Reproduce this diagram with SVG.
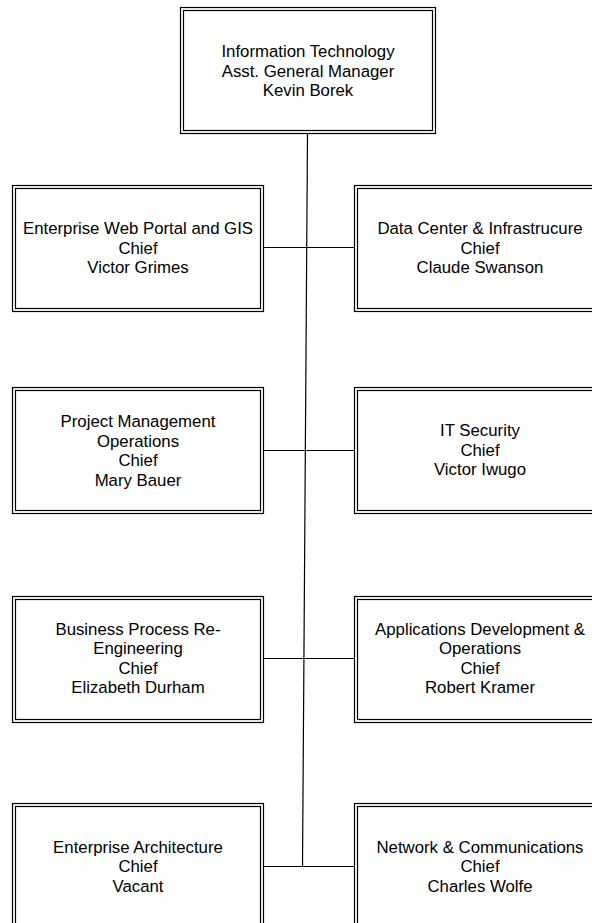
<svg xmlns="http://www.w3.org/2000/svg" width="592" height="923" viewBox="0 0 592 923">
  <style>
    .frame { fill: #ffffff; stroke: #000000; stroke-width: 1.2; }
    .inner { fill: none; stroke: #000000; stroke-width: 1.2; }
    .wire { fill: none; stroke: #000000; stroke-width: 1.2; }
    text { font-family: "Liberation Sans", Arial, sans-serif; font-size: 16.8px; fill: #000000; text-anchor: middle; }
  </style>

  <!-- connectors: spine from the manager box plus one bar per row of chiefs -->
  <g id="connectors">
    <line class="wire" x1="307.5" y1="134" x2="302.5" y2="867"/>
    <line class="wire" x1="263.5" y1="247.5" x2="354.5" y2="247.5"/>
    <line class="wire" x1="263.5" y1="450.5" x2="354.5" y2="450.5"/>
    <line class="wire" x1="263.5" y1="658.5" x2="354.5" y2="658.5"/>
    <line class="wire" x1="263.5" y1="866.5" x2="354.5" y2="866.5"/>
  </g>

  <g id="agm">
    <rect class="frame" x="180.5" y="7.5" width="255" height="126"/>
    <rect class="inner" x="183.5" y="10.5" width="249" height="120"/>
    <text x="308" y="57">Information Technology</text>
    <text x="308" y="76.5">Asst. General Manager</text>
    <text x="308" y="96">Kevin Borek</text>
  </g>

  <g id="web-portal-gis">
    <rect class="frame" x="12.5" y="185.5" width="251" height="126"/>
    <rect class="inner" x="15.5" y="188.5" width="245" height="120"/>
    <text x="138" y="234">Enterprise Web Portal and GIS</text>
    <text x="138" y="253.5">Chief</text>
    <text x="138" y="273">Victor Grimes</text>
  </g>

  <g id="data-center">
    <rect class="frame" x="354.5" y="185.5" width="251" height="126"/>
    <rect class="inner" x="357.5" y="188.5" width="245" height="120"/>
    <text x="480" y="234">Data Center &amp; Infrastrucure</text>
    <text x="480" y="253.5">Chief</text>
    <text x="480" y="273">Claude Swanson</text>
  </g>

  <g id="project-management">
    <rect class="frame" x="12.5" y="387.5" width="251" height="126"/>
    <rect class="inner" x="15.5" y="390.5" width="245" height="120"/>
    <text x="138" y="427">Project Management</text>
    <text x="138" y="446.5">Operations</text>
    <text x="138" y="466">Chief</text>
    <text x="138" y="485.5">Mary Bauer</text>
  </g>

  <g id="it-security">
    <rect class="frame" x="354.5" y="387.5" width="251" height="126"/>
    <rect class="inner" x="357.5" y="390.5" width="245" height="120"/>
    <text x="480" y="436">IT Security</text>
    <text x="480" y="455.5">Chief</text>
    <text x="480" y="475">Victor Iwugo</text>
  </g>

  <g id="business-process">
    <rect class="frame" x="12.5" y="596.5" width="251" height="126"/>
    <rect class="inner" x="15.5" y="599.5" width="245" height="120"/>
    <text x="138" y="634.5">Business Process Re-</text>
    <text x="138" y="654">Engineering</text>
    <text x="138" y="673.5">Chief</text>
    <text x="138" y="693">Elizabeth Durham</text>
  </g>

  <g id="applications-development">
    <rect class="frame" x="354.5" y="596.5" width="251" height="126"/>
    <rect class="inner" x="357.5" y="599.5" width="245" height="120"/>
    <text x="480" y="634.5">Applications Development &amp;</text>
    <text x="480" y="654">Operations</text>
    <text x="480" y="673.5">Chief</text>
    <text x="480" y="693">Robert Kramer</text>
  </g>

  <g id="enterprise-architecture">
    <rect class="frame" x="12.5" y="803.5" width="251" height="126"/>
    <rect class="inner" x="15.5" y="806.5" width="245" height="120"/>
    <text x="138" y="852.5">Enterprise Architecture</text>
    <text x="138" y="872">Chief</text>
    <text x="138" y="891.5">Vacant</text>
  </g>

  <g id="network-communications">
    <rect class="frame" x="354.5" y="803.5" width="251" height="126"/>
    <rect class="inner" x="357.5" y="806.5" width="245" height="120"/>
    <text x="480" y="852.5">Network &amp; Communications</text>
    <text x="480" y="872">Chief</text>
    <text x="480" y="891.5">Charles Wolfe</text>
  </g>
</svg>
